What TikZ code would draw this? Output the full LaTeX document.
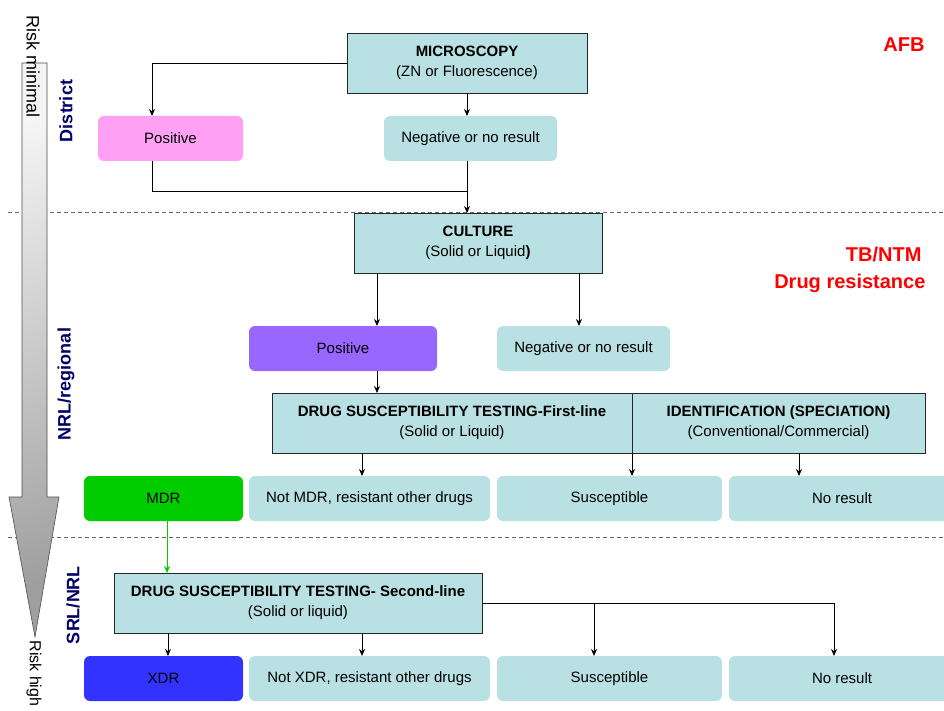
\documentclass[tikz,border=0pt]{standalone}
\usepackage{fontspec}
\setmainfont{Liberation Sans}
\usetikzlibrary{arrows.meta}
\definecolor{tealbox}{HTML}{B9E0E2}
\definecolor{pinkbox}{HTML}{FFA0F5}
\definecolor{purplebox}{HTML}{9966FF}
\definecolor{greenbox}{HTML}{00CC00}
\definecolor{bluebox}{HTML}{3333FF}
\definecolor{navylab}{HTML}{000066}
\definecolor{redlab}{HTML}{FF0000}
\begin{document}
\begin{tikzpicture}[x=1pt,y=-1pt,
  sqbox/.style={draw=black!85, line width=0.8pt, fill=tealbox, inner sep=0pt, outer sep=0pt, align=center, font=\fontsize{15}{20}\selectfont},
  rbox/.style={fill=tealbox, rounded corners=6pt, inner sep=0pt, outer sep=0pt, align=center, minimum height=45pt, font=\fontsize{15}{18}\selectfont},
  conn/.style={draw=black, line width=0.8pt},
  arr/.style={conn, -{Stealth[length=7pt,width=6pt]}},
  garr/.style={draw=greenbox, line width=0.8pt, -{Stealth[length=7pt,width=6pt]}},
  lvl/.style={rotate=90, text=navylab, font=\fontsize{18}{20}\selectfont\bfseries},
  redtxt/.style={anchor=east, text=redlab, font=\fontsize{20}{22}\selectfont\bfseries},
  sepline/.style={draw=gray!80!black, dash pattern=on 4pt off 3pt, line width=0.8pt},
  risk/.style={rotate=-90, anchor=west, font=\fontsize{18}{20}\selectfont}
]
\useasboundingbox (0,0) rectangle (944,711);

% separators
\coordinate (s1a) at (8,212);
\coordinate (s1b) at (944,212);
\coordinate (s2a) at (8,537);
\coordinate (s2b) at (944,537);
\draw[sepline] (s1a) -- (s1b);
\draw[sepline] (s2a) -- (s2b);

% big risk arrow
\shade[top color=gray!8, bottom color=gray!75, shading angle=20, draw=black!70, line width=0.6pt]
  (22,63) -- (47,63) -- (47,497) -- (59,497) -- (35,637) -- (9,497) -- (22,497) -- cycle;
\node[risk] (riskmin) at (33,12) {Risk minimal};
\node[risk, font=\fontsize{16}{18}\selectfont] (riskhigh) at (34,637) {Risk high};

% level labels
\node[lvl] (district) at (66,111) {District};
\node[lvl] (nrlreg) at (66,384) {NRL/regional};
\node[lvl] (srlnrl) at (73,605) {SRL/NRL};

% red labels
\node[redtxt] (afb) at (928,45) {AFB};
\node[redtxt] (tbntm) at (925,254) {TB/NTM};
\node[redtxt] (drugres) at (929,283) {Drug resistance};

% level 1
\node[sqbox, minimum width=240pt, minimum height=60pt] (micro) at (467,63) {\textbf{MICROSCOPY}\\(ZN or Fluorescence)};
\node[rbox, fill=pinkbox, minimum width=145pt] (pos1) at (170.5,138.5) {Positive};
\node[rbox, minimum width=173pt] (neg1) at (470.5,138.5) {Negative or no result};

% level 2
\node[sqbox, minimum width=248pt, minimum height=60pt] (culture) at (478,243) {\textbf{CULTURE}\\(Solid or Liquid\textbf{)}};
\node[rbox, fill=purplebox, minimum width=188pt] (pos2) at (343,348.5) {Positive};
\node[rbox, minimum width=173pt] (neg2) at (583.5,348.5) {Negative or no result};
\node[sqbox, minimum width=360pt, minimum height=60pt] (dst1) at (452,423) {\textbf{DRUG SUSCEPTIBILITY TESTING-First-line}\\(Solid or Liquid)};
\node[sqbox, minimum width=293pt, minimum height=60pt] (ident) at (778.5,423) {\textbf{IDENTIFICATION (SPECIATION)}\\(Conventional/Commercial)};
\node[rbox, fill=greenbox, minimum width=159pt] (mdr) at (163.5,498.5) {MDR};
\node[rbox, minimum width=241pt] (notmdr) at (369.5,498.5) {Not MDR, resistant other drugs};
\node[rbox, minimum width=225pt] (susc1) at (609.5,498.5) {Susceptible};
\node[rbox, minimum width=226pt] (nores1) at (842,498.5) {No result};

% level 3
\node[sqbox, minimum width=368pt, minimum height=60pt] (dst2) at (298,603) {\textbf{DRUG SUSCEPTIBILITY TESTING- Second-line}\\(Solid or liquid)};
\node[rbox, fill=bluebox, minimum width=159pt] (xdr) at (163.5,678.5) {XDR};
\node[rbox, minimum width=241pt] (notxdr) at (369.5,678.5) {Not XDR, resistant other drugs};
\node[rbox, minimum width=225pt] (susc2) at (609.5,678.5) {Susceptible};
\node[rbox, minimum width=226pt] (nores2) at (842,678.5) {No result};

% connectors level 1
\draw[arr] (micro.west) -| ([xshift=-18.5pt]pos1.north);
\draw[arr] (micro.south) -- (micro.south |- neg1.north);
\coordinate (j1) at (467,191);
\draw[conn] ([xshift=-18.5pt]pos1.south) |- (j1);
\draw[arr] (micro.south |- neg1.south) -- (micro.south |- culture.north);

% connectors level 2
\draw[arr] ([xshift=-101pt]culture.south) -- ([xshift=-101pt]culture.south |- pos2.north);
\draw[arr] ([xshift=101pt]culture.south) -- ([xshift=101pt]culture.south |- neg2.north);
\draw[arr] ([xshift=34pt]pos2.south) -- ([xshift=34pt]pos2.south |- dst1.north);
\draw[arr] ([xshift=-90pt]dst1.south) -- ([xshift=-90pt]dst1.south |- notmdr.north);
\draw[arr] (dst1.south east) -- (dst1.south east |- susc1.north);
\draw[arr] ([xshift=20.5pt]ident.south) -- ([xshift=20.5pt]ident.south |- nores1.north);
\draw[garr] ([xshift=3.5pt]mdr.south) -- ([xshift=3.5pt]mdr.south |- dst2.north);

% connectors level 3
\draw[arr] ([xshift=-130pt]dst2.south) -- ([xshift=-130pt]dst2.south |- xdr.north);
\draw[arr] ([xshift=64pt]dst2.south) -- ([xshift=64pt]dst2.south |- notxdr.north);
\coordinate (j2) at (594,603);
\coordinate (j3) at (834,603);
\draw[conn] (dst2.east) -- (j3);
\draw[arr] (j2) -- (j2 |- susc2.north);
\draw[arr] (j3) -- (j3 |- nores2.north);
\end{tikzpicture}
\end{document}
